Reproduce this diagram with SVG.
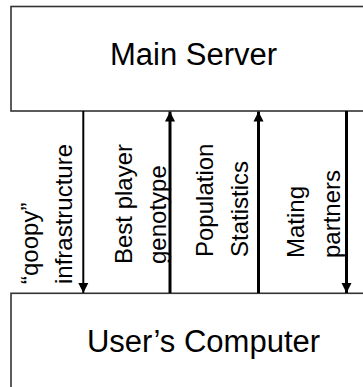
<svg xmlns="http://www.w3.org/2000/svg" width="363" height="387" viewBox="0 0 363 387">
<style>
.box{fill:#fff;stroke:#333;stroke-width:1.6}
.t{font-family:"Liberation Sans",Arial,sans-serif;fill:#000}
.big{font-size:31px}
.lab{font-size:24px}
.c{fill:none;stroke:#000}
</style>
<defs>
<marker id="ah" markerUnits="userSpaceOnUse" markerWidth="10" markerHeight="12" refX="10" refY="5" orient="auto" viewBox="0 0 10 10">
<path d="M0,0 L10,5 L0,10 z" fill="#000"/>
</marker>
</defs>
<rect width="363" height="387" fill="#fff"/>
<g id="main-server">
<rect class="box" x="11" y="6.5" width="370" height="104.5"/>
<text class="t big" x="193.5" y="65" text-anchor="middle">Main Server</text>
</g>
<g id="users-computer">
<rect class="box" x="11" y="293.3" width="370" height="120"/>
<text class="t big" x="203.5" y="352" text-anchor="middle">User’s Computer</text>
</g>
<g id="connectors">
<line class="c" x1="83.3" y1="111" x2="83.3" y2="293" stroke-width="2" marker-end="url(#ah)"/>
<line class="c" x1="170" y1="293" x2="170" y2="111.5" stroke-width="3" marker-end="url(#ah)"/>
<line class="c" x1="258.5" y1="293" x2="258.5" y2="111.5" stroke-width="3" marker-end="url(#ah)"/>
<line class="c" x1="346.5" y1="111" x2="346.5" y2="293" stroke-width="3" marker-end="url(#ah)"/>
</g>
<g id="label-qoopy">
<text class="t lab" transform="translate(37.5,284) rotate(-90)">“qoopy”</text>
<text class="t lab" transform="translate(71.5,284) rotate(-90)">infrastructure</text>
</g>
<g id="label-best">
<text class="t lab" transform="translate(132,264) rotate(-90)">Best player</text>
<text class="t lab" transform="translate(166,264) rotate(-90)">genotype</text>
</g>
<g id="label-population">
<text class="t lab" transform="translate(213,257) rotate(-90)">Population</text>
<text class="t lab" transform="translate(248,257) rotate(-90)">Statistics</text>
</g>
<g id="label-mating">
<text class="t lab" transform="translate(304,258) rotate(-90)">Mating</text>
<text class="t lab" transform="translate(340,258) rotate(-90)">partners</text>
</g>
</svg>
